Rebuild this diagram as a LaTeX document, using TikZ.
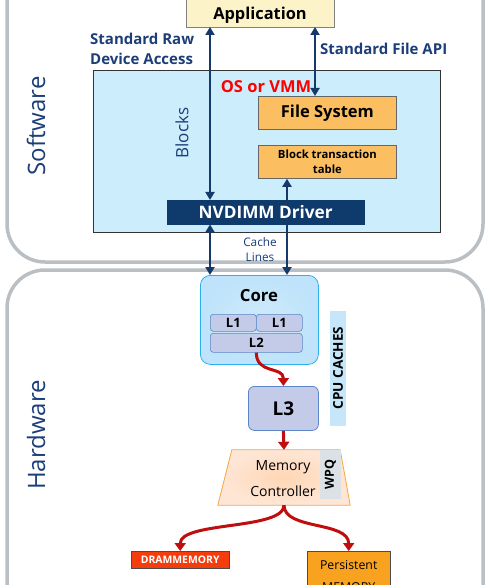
\documentclass[tikz,border=0pt]{standalone}
\usepackage{fontspec}
\setmainfont{Open Sans}
\usetikzlibrary{arrows.meta}

\definecolor{navy}{HTML}{1B3D78}
\definecolor{arrownavy}{HTML}{15396B}
\definecolor{panelgray}{HTML}{B9BFC3}
\definecolor{osblue}{HTML}{CCEEFC}
\definecolor{boxorange}{HTML}{FBBF62}
\definecolor{drivernavy}{HTML}{0E3A6C}
\definecolor{corefill}{HTML}{BEE3FA}
\definecolor{coreline}{HTML}{2BB0EC}
\definecolor{cachefill}{HTML}{C3CBE9}
\definecolor{cacheline}{HTML}{5C86C8}
\definecolor{barblue}{HTML}{C6E7F9}
\definecolor{arrowred}{HTML}{C00D0D}
\definecolor{mcfill}{HTML}{FDDCC5}
\definecolor{mcline}{HTML}{F7A640}
\definecolor{wpqgray}{HTML}{DCE1E5}
\definecolor{dramred}{HTML}{F43C0C}
\definecolor{pmemorange}{HTML}{F9A220}
\definecolor{appyellow}{HTML}{FDF3C9}

\begin{document}
\begin{tikzpicture}[x=1pt, y=-1pt,
    panel/.style={draw=panelgray, line width=3.5pt, rounded corners=38pt},
    sidelabel/.style={rotate=90, text=navy, font=\fontsize{24}{24}\selectfont},
    navytext/.style={text=navy, font=\bfseries\fontsize{15}{20}\selectfont, inner sep=0pt},
    appbox/.style={draw=gray, fill=appyellow, font=\bfseries\fontsize{16.4}{16.4}\selectfont},
    osbox/.style={draw=black!80, fill=osblue, line width=0.8pt},
    orangebox/.style={draw=black!60, fill=boxorange, line width=0.8pt, font=\bfseries\fontsize{16.5}{16.5}\selectfont},
    drivebox/.style={draw=drivernavy, fill=drivernavy},
    drivetext/.style={text=white, inner sep=0pt, font=\bfseries\fontsize{17.2}{17.2}\selectfont},
    corebox/.style={draw=coreline, inner color=corefill!75, outer color=corefill, line width=0.8pt, rounded corners=10pt},
    cachebox/.style={draw=cacheline, fill=cachefill, line width=0.6pt, rounded corners=3pt, inner sep=0pt, font=\bfseries\fontsize{13}{13}\selectfont},
    l3box/.style={draw=cacheline, fill=cachefill, line width=0.8pt, rounded corners=6pt, font=\bfseries\fontsize{19}{19}\selectfont},
    cpubar/.style={fill=barblue, inner sep=0pt, font=\bfseries\fontsize{13.5}{13.5}\selectfont},
    mcbox/.style={draw=mcline, inner color=mcfill!75!orange!70, outer color=mcfill!70, line width=0.8pt},
    wpqbox/.style={fill=wpqgray, inner sep=0pt, font=\bfseries\fontsize{12.5}{12.5}\selectfont},
    drambox/.style={draw=black!70, fill=dramred, text=white, inner sep=0pt, font=\bfseries\fontsize{10.4}{10.4}\selectfont},
    pmembox/.style={draw=black!70, fill=pmemorange, inner sep=0pt, font=\fontsize{12.3}{22}\selectfont},
    navyarrow/.style={draw=arrownavy, line width=2.3pt, {Triangle[length=8pt,width=9pt]}-{Triangle[length=8pt,width=9pt]}},
    redarrow/.style={draw=arrowred, line width=3pt, -{Triangle[length=8pt,width=11pt]}},
  ]
  \useasboundingbox (0,0) rectangle (500,585);
  \clip (0,0) rectangle (500,585);

  \draw[panel] (7,-60) rectangle (483,262);
  \draw[panel] (7,270) rectangle (483,650);
  \node[sidelabel] (sw)   at (36,126)  {Software};
  \node[sidelabel] (hw)   at (36,435)  {Hardware};

  \node[appbox, minimum width=148pt, minimum height=32pt, text height=18pt, text depth=0pt, anchor=south] (app) at (260,27) {Application};
  \node[osbox, minimum width=347pt, minimum height=162pt, anchor=north west] (os) at (93,70) {};
  \node[text=red, font=\bfseries\fontsize{16.5}{16.5}\selectfont] (oslbl) at (266,87) {OS or VMM};
  \node[orangebox, minimum width=138pt, minimum height=33pt, anchor=north west] (fs) at (258,96) {File System};
  \node[orangebox, minimum width=138pt, minimum height=33pt, anchor=north west, align=center,
        font=\bfseries\fontsize{11.3}{15}\selectfont] (btt) at (258,145) {Block transaction\\table};
  \node[drivebox, minimum width=197pt, minimum height=24pt, anchor=north west] (drv) at (167,200) {};
  \node[rotate=90, text=navy, font=\fontsize{17}{17}\selectfont] (blk) at (182,133) {Blocks};
  \node[navytext, align=left, anchor=west] (raw)  at (90,49)  {Standard Raw\\Device Access};
  \node[navytext, anchor=west]             (fapi) at (320,49) {Standard File API};
  \node[text=navy, align=center, font=\fontsize{11.8}{15}\selectfont] (cl) at (260,250) {Cache\\Lines};

  \node[corebox, minimum width=118pt, minimum height=89pt, anchor=north west] (core) at (200,275) {};
  \node[font=\bfseries\fontsize{16.7}{16.7}\selectfont] (corelbl) at (259,296) {Core};
  \node[cachebox, minimum width=46pt, minimum height=17pt, anchor=north west] (l1a) at (210,314) {L1};
  \node[cachebox, minimum width=46pt, minimum height=17pt, anchor=north west] (l1b) at (256,314) {L1};
  \node[cachebox, minimum width=92pt, minimum height=19pt, anchor=north west] (l2)  at (210,333) {L2};
  \node[l3box, minimum width=70pt, minimum height=44pt, anchor=north west]    (l3)  at (248,386) {L3};
  \node[cpubar, rotate=90, minimum width=115pt, minimum height=16pt] (cpu) at (338,368) {CPU CACHES};

  \node[minimum width=132pt, minimum height=55pt, inner sep=0pt] (mc) at (284,477.5) {};
  \draw[mcbox] ([xshift=14pt]mc.north west) -- ([xshift=-10pt]mc.north east)
               -- (mc.south east) -- (mc.south west) -- cycle;
  \node[align=center, font=\fontsize{14}{26}\selectfont] (mclbl) at (283,479) {Memory\\Controller};
  \node[wpqbox, rotate=90, minimum width=49pt, minimum height=21pt] (wpq) at (330.5,474.5) {WPQ};
  \node[drambox, minimum width=98pt, minimum height=17pt, anchor=north west] (dram) at (131,551) {DRAMMEMORY};
  \node[pmembox, minimum width=83pt, minimum height=50pt, anchor=north west, align=center] (pmem) at (307,551) {Persistent\\MEMORY};

  \coordinate (rawx)   at (210,0);
  \coordinate (apix)   at (315,0);
  \coordinate (cachex) at (287,0);
  \draw[navyarrow] (app.south -| rawx)  -- (drv.north -| rawx);
  \draw[navyarrow] (app.south -| apix)  -- (fs.north -| apix);
  \draw[navyarrow] (drv.south -| rawx)  -- (core.north -| rawx);
  \draw[navyarrow] (btt.south -| cachex) -- (core.north -| cachex);
  \node[drivetext] (drvlbl) at (drv.center) {NVDIMM Driver};

  \draw[redarrow] (l2.south) .. controls +(0,22) and +(0,-20) .. (l3.north);
  \draw[redarrow] (l3.south) -- (mc.north);
  \draw[redarrow] (mc.south) .. controls +(0,25) and +(0,-30) .. (dram.north);
  \draw[redarrow] (mc.south) .. controls +(0,25) and +(0,-30) .. (pmem.north);
\end{tikzpicture}
\end{document}
